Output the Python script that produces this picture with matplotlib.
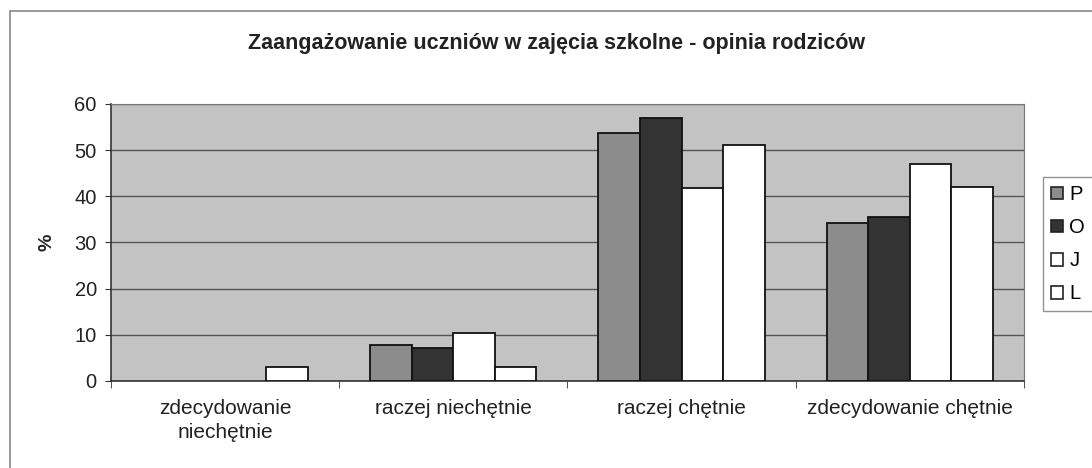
import matplotlib.pyplot as plt
import numpy as np
from matplotlib.patches import Patch, Rectangle

plt.rcParams["font.family"] = ["Liberation Sans", "DejaVu Sans"]

categories = ["zdecydowanie\nniechętnie", "raczej niechętnie", "raczej chętnie", "zdecydowanie chętnie"]
series = ["P", "O", "J", "L"]
P = [0, 7.8, 53.7, 34.3]
O = [0, 7.2, 57.0, 35.6]
J = [0, 10.5, 41.8, 47.1]
L = [3.1, 3.1, 51.2, 42.1]
colors = ["#8c8c8c", "#333333", "#ffffff", "#ffffff"]

fig = plt.figure(figsize=(10.92, 4.68), dpi=100)
ax = fig.add_axes([0.1014, 0.1859, 0.8363, 0.5919])

# chart area border
fig.patches.append(Rectangle((10 / 1092, -0.1), 1.2, 1 - 11 / 468 + 0.1,
                             transform=fig.transFigure, fill=False,
                             edgecolor="#888888", linewidth=1.2))

x = np.arange(len(categories))
w = 1 / 5.5
for i, vals in enumerate([P, O, J, L]):
    bars = ax.bar(x + (i - 1.5) * w, vals, width=w, color=colors[i],
                  edgecolor="#111111", linewidth=1.3, zorder=3)
    for b, v in zip(bars, vals):
        if v == 0:
            b.set_visible(False)

ax.set_facecolor("#c3c3c3")
ax.set_xlim(-0.5, 3.5)
ax.set_ylim(0, 60)
ax.set_yticks(range(0, 61, 10))
ax.yaxis.grid(True, color="#555555", linewidth=1.0, zorder=1)
ax.set_axisbelow(True)

ax.set_xticks(x)
ax.set_xticklabels(categories, fontsize=15, color="#222222", linespacing=1.3)
ax.tick_params(axis="x", length=0, pad=13)
ax.set_xticks(np.arange(-0.5, 3.6, 1), minor=True)
ax.tick_params(axis="x", which="minor", length=5, color="#333333")
ax.tick_params(axis="y", labelsize=14.5, labelcolor="#222222", length=4, color="#333333", pad=6)
ax.set_ylabel("%", fontsize=14, fontweight="bold", color="#222222", labelpad=14)

for s in ["top", "right"]:
    ax.spines[s].set_color("#777777")
for s in ["left", "bottom"]:
    ax.spines[s].set_color("#333333")
    ax.spines[s].set_linewidth(1.2)

fig.text(0.51, 1 - 44 / 468, "Zaangażowanie uczniów w zajęcia szkolne - opinia rodziców",
         ha="center", va="center", fontsize=15.5, fontweight="bold", color="#222222")

handles = [Patch(facecolor=c, edgecolor="#222222", linewidth=1.2) for c in colors]
fig.legend(handles, series, loc="upper left", bbox_to_anchor=(1043 / 1092, 1 - 177 / 468),
           fontsize=14.5, frameon=True, fancybox=False, edgecolor="#777777",
           handlelength=0.6, handleheight=0.6, handletextpad=0.3,
           labelspacing=0.7, borderpad=0.4, borderaxespad=0)

plt.savefig("out.png", dpi=100)
